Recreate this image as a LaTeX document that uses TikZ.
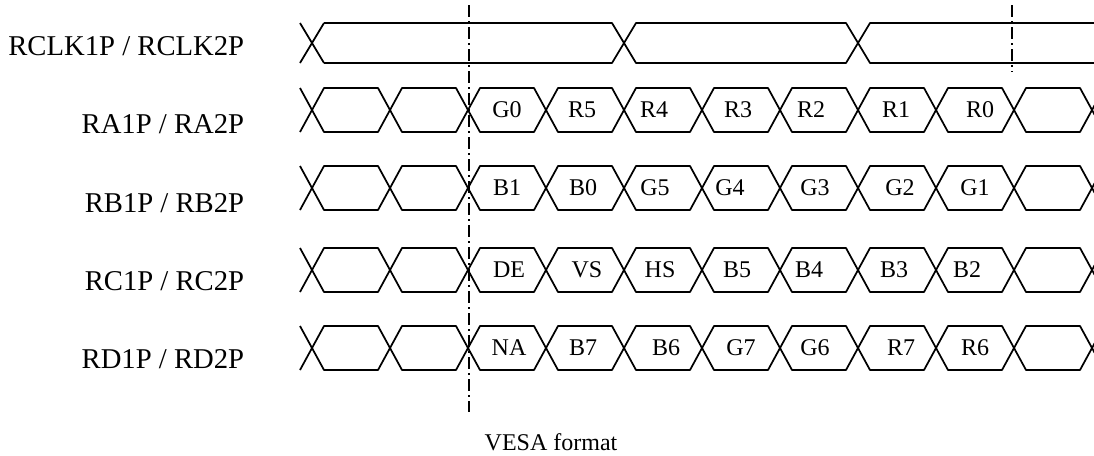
\documentclass[tikz,border=0pt]{standalone}
\usepackage{fontspec}
\setmainfont{Liberation Serif}
\usepackage{tikz}

\begin{document}
\begin{tikzpicture}[x=0.75pt,y=-0.75pt,line width=1.3pt,line join=round,
        signal/.style={anchor=base east,inner sep=0pt,font=\fontsize{21.5}{24}\selectfont},
        bitval/.style={inner sep=0pt,font=\fontsize{18}{20}\selectfont},
        marker/.style={line width=1pt,dash pattern=on 9pt off 3pt on 1.5pt off 3pt}]
            \useasboundingbox (0,0) rectangle (1094,455);
            \clip (0,0) rectangle (1094,455);

            % signal names
            \node[signal] (CLK) at (245,55) {RCLK1P / RCLK2P};
            \node[signal] (RA) at (245,133) {RA1P / RA2P};
            \node[signal] (RB) at (245,212) {RB1P / RB2P};
            \node[signal] (RC) at (245,290) {RC1P / RC2P};
            \node[signal] (RD) at (245,368) {RD1P / RD2P};

            % clock
            \draw (300,23) -- (324,63) (300,63) -- (324,23);
            \draw (324,23) -- (612,23) -- (636,63) -- (846,63) -- (870,23) -- (1100,23);
            \draw (324,63) -- (612,63) -- (636,23) -- (846,23) -- (870,63) -- (1100,63);

            % data lanes
            \foreach \y in {110,188,270,348}{
                \draw (300,\y-22) -- (312,\y) -- (300,\y+22);
                \foreach \x in {312,390,...,1014}
                    \draw (\x,\y) -- ++(12,-22) -- ++(54,0) -- ++(12,22)
                        -- ++(-12,22) -- ++(-54,0) -- cycle;
                \draw (1104,\y-22) -- (1092,\y) -- (1104,\y+22);
            }

            % bit names
            \foreach \x/\t [count=\i] in {507/G0,582/R5,654/R4,738/R3,811/R2,896/R1,980/R0}
                \node[bitval] (a\i) at (\x,110) {\t};
            \foreach \x/\t [count=\i] in {507/B1,583/B0,655/G5,730/G4,815/G3,900/G2,975/G1}
                \node[bitval] (b\i) at (\x,188) {\t};
            \foreach \x/\t [count=\i] in {509/DE,587/VS,660/HS,737/B5,809/B4,894/B3,967/B2}
                \node[bitval] (c\i) at (\x,270) {\t};
            \foreach \x/\t [count=\i] in {509/NA,583/B7,666/B6,741/G7,815/G6,901/R7,975/R6}
                \node[bitval] (d\i) at (\x,348) {\t};

            % frame markers
            \draw[marker] (469,5) -- (469,412);
            \draw[marker] (1012,5) -- (1012,72);

            \node[bitval,anchor=base] (fmt) at (551,450) {VESA format};
\end{tikzpicture}
\end{document}
